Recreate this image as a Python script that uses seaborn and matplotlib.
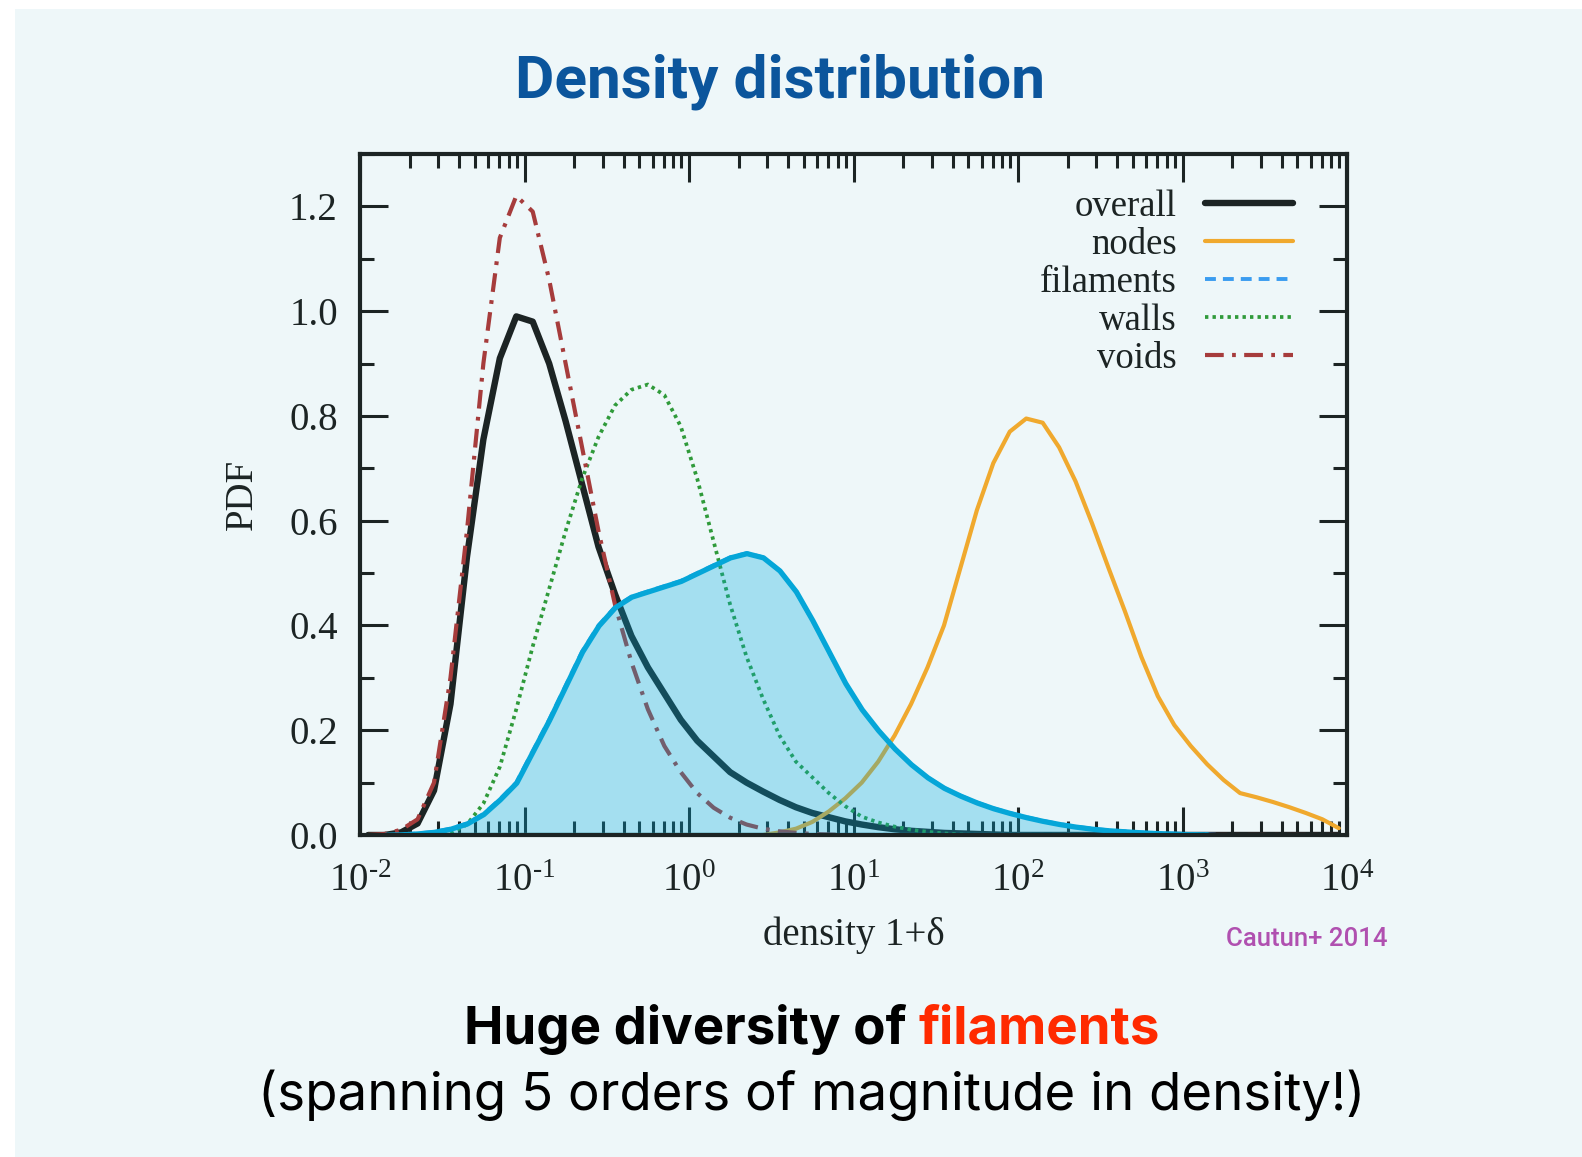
import numpy as np
import pandas as pd
import seaborn as sns
import matplotlib
matplotlib.use("Agg")
import matplotlib.pyplot as plt
from matplotlib.patches import Rectangle
from matplotlib.ticker import FixedLocator, LogLocator, MultipleLocator, NullFormatter

# ---------------- data ----------------
log_density = [-1.95, -1.85, -1.75, -1.65, -1.55, -1.45, -1.35, -1.25, -1.15, -1.05,
               -0.95, -0.85, -0.75, -0.65, -0.55, -0.45, -0.35, -0.25, -0.15, -0.05,
               0.05, 0.15, 0.25, 0.35, 0.45, 0.55, 0.65, 0.75, 0.85, 0.95,
               1.05, 1.15, 1.25, 1.35, 1.45, 1.55, 1.65, 1.75, 1.85, 1.95,
               2.05, 2.15, 2.25, 2.35, 2.45, 2.55, 2.65, 2.75, 2.85, 2.95,
               3.05, 3.15, 3.25, 3.35, 3.45, 3.55, 3.65, 3.75, 3.85, 3.95]

overall = [0.0, 0.0, 0.005, 0.022, 0.085, 0.25, 0.53, 0.755, 0.91, 0.99,
           0.98, 0.90, 0.79, 0.67, 0.55, 0.46, 0.38, 0.32, 0.27, 0.22,
           0.18, 0.15, 0.12, 0.10, 0.083, 0.067, 0.053, 0.042, 0.034, 0.026,
           0.020, 0.015, 0.011, 0.008, 0.006, 0.004, 0.003, 0.002, 0.001, 0.0,
           0.0, 0.0, 0.0, 0.0, 0.0, 0.0, 0.0, 0.0, 0.0, 0.0,
           0.0, 0.0, 0.0, 0.0, 0.0, 0.0, 0.0, 0.0, 0.0, 0.0]

nodes = [0.0, 0.0, 0.0, 0.0, 0.0, 0.0, 0.0, 0.0, 0.0, 0.0,
         0.0, 0.0, 0.0, 0.0, 0.0, 0.0, 0.0, 0.0, 0.0, 0.0,
         0.0, 0.0, 0.0, 0.0, 0.0, 0.005, 0.012, 0.025, 0.045, 0.07,
         0.10, 0.14, 0.19, 0.25, 0.32, 0.40, 0.51, 0.62, 0.71, 0.77,
         0.795, 0.787, 0.74, 0.675, 0.595, 0.51, 0.427, 0.34, 0.265, 0.21,
         0.17, 0.135, 0.105, 0.08, 0.072, 0.063, 0.053, 0.042, 0.03, 0.013]

filaments = [0.0, 0.0, 0.001, 0.003, 0.006, 0.012, 0.022, 0.04, 0.068, 0.10,
             0.16, 0.22, 0.285, 0.35, 0.40, 0.435, 0.455, 0.465, 0.475, 0.485,
             0.50, 0.515, 0.53, 0.538, 0.53, 0.505, 0.465, 0.41, 0.35, 0.29,
             0.24, 0.20, 0.165, 0.135, 0.11, 0.09, 0.075, 0.062, 0.051, 0.042,
             0.034, 0.027, 0.021, 0.016, 0.012, 0.009, 0.007, 0.005, 0.0035, 0.0025,
             0.0015, 0.001, 0.0, 0.0, 0.0, 0.0, 0.0, 0.0, 0.0, 0.0]

walls = [0.0, 0.0, 0.0, 0.0, 0.0, 0.003, 0.02, 0.06, 0.13, 0.24,
         0.36, 0.47, 0.58, 0.68, 0.76, 0.82, 0.85, 0.86, 0.84, 0.78,
         0.68, 0.56, 0.44, 0.34, 0.26, 0.19, 0.14, 0.11, 0.08, 0.055,
         0.035, 0.024, 0.016, 0.01, 0.006, 0.003, 0.001, 0.0, 0.0, 0.0,
         0.0, 0.0, 0.0, 0.0, 0.0, 0.0, 0.0, 0.0, 0.0, 0.0,
         0.0, 0.0, 0.0, 0.0, 0.0, 0.0, 0.0, 0.0, 0.0, 0.0]

voids = [0.0, 0.002, 0.01, 0.03, 0.10, 0.30, 0.58, 0.90, 1.14, 1.22,
         1.19, 1.06, 0.90, 0.74, 0.58, 0.44, 0.33, 0.24, 0.17, 0.12,
         0.08, 0.052, 0.033, 0.02, 0.012, 0.007, 0.004, 0.002, 0.001, 0.0,
         0.0, 0.0, 0.0, 0.0, 0.0, 0.0, 0.0, 0.0, 0.0, 0.0,
         0.0, 0.0, 0.0, 0.0, 0.0, 0.0, 0.0, 0.0, 0.0, 0.0,
         0.0, 0.0, 0.0, 0.0, 0.0, 0.0, 0.0, 0.0, 0.0, 0.0]

series_names = ["overall", "nodes", "filaments", "walls", "voids"]
x_tick_exponents = [-2, -1, 0, 1, 2, 3, 4]
y_ticks = [0.0, 0.2, 0.4, 0.6, 0.8, 1.0, 1.2]

title_text = "Density distribution"
x_label = "density 1+\u03b4"
y_label = "PDF"
credit_text = "Cautun+ 2014"
bottom_bold = "Huge diversity of "
bottom_red = "filaments"
bottom_line2 = "(spanning 5 orders of magnitude in density!)"

# ---------------- styling ----------------
sns.set_theme(style="ticks")
plt.rcParams["font.family"] = ["Liberation Serif", "DejaVu Serif"]
plt.rcParams["mathtext.fontset"] = "custom"
plt.rcParams["mathtext.rm"] = "Liberation Serif"
plt.rcParams["mathtext.it"] = "Liberation Serif:italic"
plt.rcParams["mathtext.bf"] = "Liberation Serif:bold"

BG = "#eef7f9"
INK = "#1c2424"

density = np.power(10.0, np.array(log_density))

fig = plt.figure(figsize=(15.82, 11.57), dpi=100, facecolor="white")
fig.patches.append(Rectangle((15 / 1582, 0), 1 - 15 / 1582, 1 - 9 / 1157,
                             transform=fig.transFigure, facecolor=BG,
                             edgecolor="none", zorder=-10))

ax = fig.add_axes([360 / 1582, 1 - 835 / 1157, (1347 - 360) / 1582, (835 - 154) / 1157])
ax.set_facecolor("none")

styles = {
    "overall":   dict(color="#1c2424", lw=4.6, linestyle="-"),
    "nodes":     dict(color="#f0a92e", lw=3.0, linestyle="-"),
    "filaments": dict(color="#3a9cf0", lw=2.8, linestyle=(0, (2.8, 1.8))),
    "walls":     dict(color="#2f9a3a", lw=2.7, linestyle=(0, (0.9, 1.1))),
    "voids":     dict(color="#a63c3c", lw=3.0, linestyle=(0, (4.5, 2.0, 0.9, 2.0))),
}
values = {"overall": overall, "nodes": nodes, "filaments": filaments,
          "walls": walls, "voids": voids}

for name in series_names:
    st = styles[name]
    sns.lineplot(x=density, y=values[name], ax=ax, color=st["color"], lw=st["lw"],
                 linestyle=st["linestyle"], label=name, zorder=3)

# highlighted filament region
i0, i1 = 1, 52
ax.fill_between(density[i0:i1], filaments[i0:i1], 0,
                facecolor=(0.0, 0.667, 0.863, 0.31), edgecolor="#05a6d8",
                linewidth=3.8, zorder=6)

ax.set_xscale("log")
ax.set_xlim(1e-2, 1e4)
ax.set_ylim(0, 1.30)

ax.xaxis.set_major_locator(FixedLocator([10.0 ** e for e in x_tick_exponents]))
ax.set_xticklabels([r"$10^{\text{%d}}$" % e for e in x_tick_exponents])
ax.xaxis.set_minor_locator(LogLocator(base=10, subs=np.arange(2, 10)))
ax.xaxis.set_minor_formatter(NullFormatter())
ax.set_yticks(y_ticks)
ax.set_yticklabels(["%.1f" % v for v in y_ticks])
ax.yaxis.set_minor_locator(MultipleLocator(0.1))

ax.tick_params(which="both", direction="in", top=True, right=True, colors=INK,
               width=2.2)
ax.tick_params(which="major", length=20, labelsize=28)
ax.tick_params(which="minor", length=10)
ax.tick_params(axis="x", which="major", pad=20)
ax.tick_params(axis="y", which="major", pad=16)
for sp in ax.spines.values():
    sp.set_linewidth(3.0)
    sp.set_color(INK)
    sp.set_zorder(10)

ax.set_xlabel(x_label, fontsize=28, color=INK, labelpad=12)
ax.set_ylabel(y_label, fontsize=28, color=INK, labelpad=20)

handles, labels = ax.get_legend_handles_labels()
leg = ax.legend(handles[:5], labels[:5], loc="upper right",
                bbox_to_anchor=((1293 - 360) / 987, 1 - (189 - 154) / 681),
                frameon=False, markerfirst=False, fontsize=26.5,
                handlelength=2.4, handletextpad=0.75, labelspacing=0.1,
                borderpad=0, borderaxespad=0)
for t in leg.get_texts():
    t.set_color(INK)

# ---------------- slide texts ----------------
fig.text(780 / 1582, 1 - 97 / 1157, title_text, ha="center", va="baseline",
         fontsize=43.5, fontweight="bold", color="#0b559c",
         family=["Roboto", "DejaVu Sans"])

fig.text(1387 / 1582, 1 - 946 / 1157, credit_text, ha="right", va="baseline",
         fontsize=18.5, fontweight="medium", color="#b050b0",
         family=["Roboto", "DejaVu Sans"])

renderer = fig.canvas.get_renderer()
bold_kw = dict(fontsize=38, fontweight="bold", family=["Inter", "DejaVu Sans"],
               va="baseline", ha="left")
probe_all = fig.text(0, 0, bottom_bold + bottom_red, **bold_kw)
probe_red = fig.text(0, 0, bottom_red, **bold_kw)
w_all = probe_all.get_window_extent(renderer).width
w_red = probe_red.get_window_extent(renderer).width
probe_all.remove()
probe_red.remove()
cx = 812
y1 = 1 - 1044 / 1157
x_start = cx - w_all / 2
fig.text(x_start / 1582, y1, bottom_bold, color="black", **bold_kw)
fig.text((x_start + w_all - w_red) / 1582, y1, bottom_red, color="#ff2a00", **bold_kw)

fig.text(cx / 1582, 1 - 1110 / 1157, bottom_line2, ha="center", va="baseline",
         fontsize=38, color="black", family=["Inter", "DejaVu Sans"])

fig.savefig("out.png", dpi=100, facecolor="white")
